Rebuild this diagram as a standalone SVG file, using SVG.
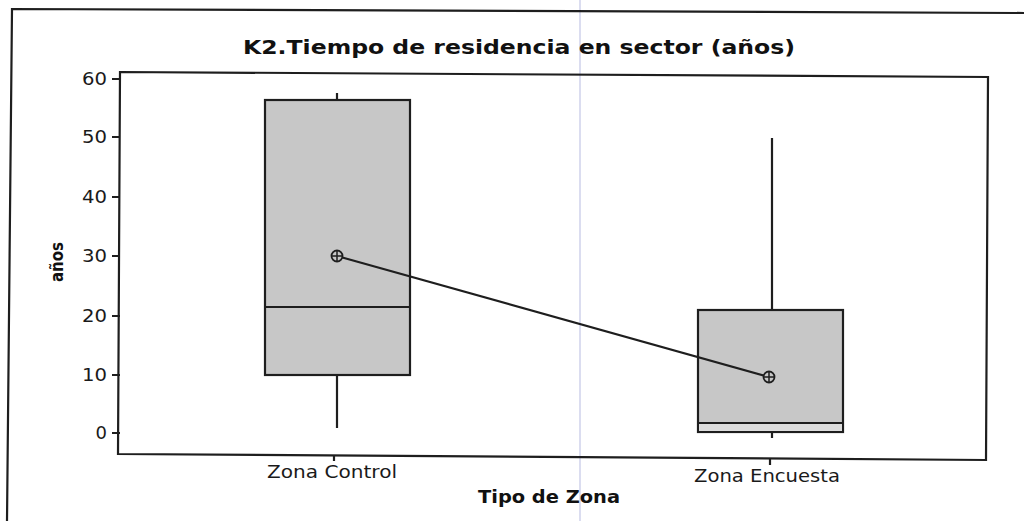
<svg xmlns="http://www.w3.org/2000/svg" width="1024" height="521" viewBox="0 0 1024 521">
<style>
.ln{stroke:#1e1e1e;stroke-width:2.2;fill:none}
.box{fill:#c7c7c7;stroke:#1e1e1e;stroke-width:2.2}
.tk{font-family:"DejaVu Sans","Liberation Sans",sans-serif;font-size:18px;fill:#1a1a1a;text-anchor:end}
.xl{font-family:"DejaVu Sans","Liberation Sans",sans-serif;font-size:18px;fill:#1a1a1a;text-anchor:middle}
.b{font-family:"DejaVu Sans","Liberation Sans",sans-serif;font-weight:bold;fill:#111}
</style>
<defs>
<g id="mean"><circle r="5.5" fill="#c7c7c7" stroke="#1e1e1e" stroke-width="1.8"/><path d="M-5.5 0H5.5M0 -5.5V5.5" stroke="#1e1e1e" stroke-width="1.5"/></g>
</defs>
<rect width="1024" height="521" fill="#ffffff"/>
<line x1="580" y1="0" x2="580" y2="521" stroke="#c3c7e6" stroke-width="1.2"/>
<g id="frame">
<polyline class="ln" points="1024,13 12,9 7,521"/>
</g>
<text id="title" class="b" x="519" y="54" font-size="20" text-anchor="middle" textLength="552" lengthAdjust="spacingAndGlyphs">K2.Tiempo de residencia en sector (años)</text>
<g id="plot-area">
<polygon class="ln" points="120,72 988,77 986,460 118,454"/>
</g>
<g id="y-axis">
<path class="ln" d="M112 79H120M112 137H120M112 197H120M112 256H120M112 316H120M112 375H120M112 433H120"/>
<text class="tk" x="107" y="85" textLength="25" lengthAdjust="spacingAndGlyphs">60</text>
<text class="tk" x="107" y="143" textLength="25" lengthAdjust="spacingAndGlyphs">50</text>
<text class="tk" x="107" y="203" textLength="25" lengthAdjust="spacingAndGlyphs">40</text>
<text class="tk" x="107" y="262" textLength="25" lengthAdjust="spacingAndGlyphs">30</text>
<text class="tk" x="107" y="322" textLength="25" lengthAdjust="spacingAndGlyphs">20</text>
<text class="tk" x="107" y="381" textLength="25" lengthAdjust="spacingAndGlyphs">10</text>
<text class="tk" x="107" y="439">0</text>
<text class="b" x="0" y="0" font-size="18" text-anchor="middle" textLength="40" lengthAdjust="spacingAndGlyphs" transform="translate(63 262) rotate(-90)">años</text>
</g>
<g id="x-axis">
<path class="ln" d="M334 455V461M770 459V465"/>
<text class="xl" x="332" y="478" textLength="130" lengthAdjust="spacingAndGlyphs">Zona Control</text>
<text class="xl" x="767" y="482" textLength="146" lengthAdjust="spacingAndGlyphs">Zona Encuesta</text>
<text class="b" x="549" y="503" font-size="17" text-anchor="middle" textLength="142" lengthAdjust="spacingAndGlyphs">Tipo de Zona</text>
</g>
<g id="box-control">
<path class="ln" d="M337 93V100M337 375V428"/>
<rect class="box" x="265" y="100" width="145" height="275"/>
<line class="ln" x1="265" y1="307" x2="410" y2="307"/>
</g>
<g id="box-encuesta">
<path class="ln" d="M772 138V310M772 432V438"/>
<rect class="box" x="698" y="310" width="145" height="122"/>
<rect x="699" y="424" width="143" height="7" fill="#dcdcdc"/>
<line class="ln" x1="698" y1="423" x2="843" y2="423"/>
</g>
<g id="connectors">
<line class="ln" x1="337" y1="256" x2="769" y2="377"/>
</g>
<g id="mean-control"><use href="#mean" x="337" y="256"/></g>
<g id="mean-encuesta"><use href="#mean" x="769" y="377"/></g>
</svg>
